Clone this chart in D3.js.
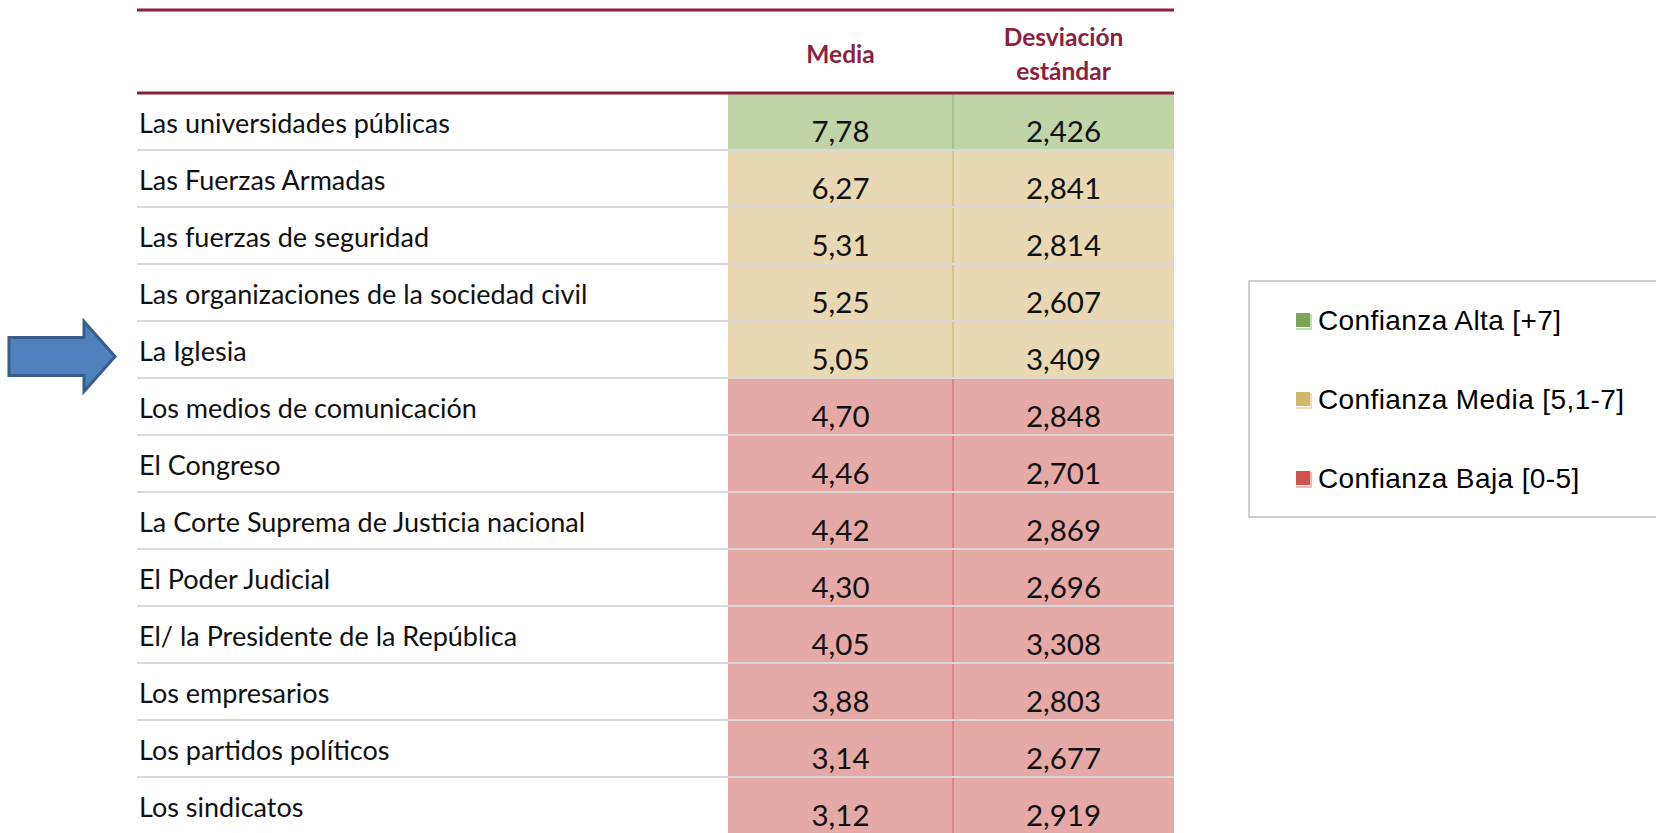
<!DOCTYPE html>
<html>
<head>
<meta charset="utf-8">
<script src="https://cdn.jsdelivr.net/npm/d3@7"></script>
<style>
  html, body { margin: 0; padding: 0; background: #fff; overflow: hidden; }
  svg { display: block; }
</style>
</head>
<body>
<svg id="chart" width="1656" height="833"></svg>
<script>
// ---- data ----
const institutions = [
  "Las universidades públicas",
  "Las Fuerzas Armadas",
  "Las fuerzas de seguridad",
  "Las organizaciones de la sociedad civil",
  "La Iglesia",
  "Los medios de comunicación",
  "El Congreso",
  "La Corte Suprema de Justicia nacional",
  "El Poder Judicial",
  "El/ la Presidente de la República",
  "Los empresarios",
  "Los partidos políticos",
  "Los sindicatos"
];
const media = [7.78, 6.27, 5.31, 5.25, 5.05, 4.70, 4.46, 4.42, 4.30, 4.05, 3.88, 3.14, 3.12];
const desviacion = [2.426, 2.841, 2.814, 2.607, 3.409, 2.848, 2.701, 2.869, 2.696, 3.308, 2.803, 2.677, 2.919];
const columnHeaders = [["Media"], ["Desviación", "estándar"]];
const legendLabels = ["Confianza Alta [+7]", "Confianza Media [5,1-7]", "Confianza Baja [0-5]"];
const highlighted = "La Iglesia";

// ---- styles ----
const cellFill = ["#E5A9A6", "#E8D9B4", "#C1D4A8"];      // baja, media, alta
const dividerColor = ["#D27C79", "#CDBB84", "#9FBE83"];
const legendFill = ["#7BA65A", "#D2B86B", "#D0524E"];
const legendShadow = ["#B5CFA0", "#E6D6A6", "#E8A6A4"];
const maroon = "#8C1F3B";

const svg = d3.select("#chart");

const tableLeft = 137, tableRight = 1174;
const cellLeft = 728, cellMid = 953;
const headerTop = 10, headerBottom = 93, rowH = 57;

const y = d3.scaleBand()
  .domain(institutions)
  .range([headerBottom, headerBottom + rowH * institutions.length])
  .padding(0);

const confidence = d3.scaleThreshold().domain([5, 7]).range([0, 1, 2]);
const fmt = (v, d) => d3.format("." + d + "f")(v).replace(".", ",");

const rows = institutions.map((name, i) => ({ name, media: media[i], sd: desviacion[i], cls: confidence(media[i]) }));

// cells
const g = svg.append("g");
const rowG = g.selectAll("g.row").data(rows).join("g").attr("class", "row")
  .attr("transform", d => `translate(0,${y(d.name)})`);

rowG.append("rect")
  .attr("x", cellLeft).attr("y", 0)
  .attr("width", tableRight - cellLeft).attr("height", y.bandwidth())
  .attr("fill", d => cellFill[d.cls]);

rowG.append("line")
  .attr("x1", cellMid).attr("x2", cellMid)
  .attr("y1", 0).attr("y2", y.bandwidth())
  .attr("stroke", d => dividerColor[d.cls]).attr("stroke-width", 1.5);

// separators
g.selectAll("line.sep").data(rows.slice(1)).join("line").attr("class", "sep")
  .attr("x1", tableLeft).attr("x2", tableRight)
  .attr("y1", d => y(d.name)).attr("y2", d => y(d.name))
  .attr("stroke", "#D9D9D9").attr("stroke-width", 2);

// labels
rowG.append("text")
  .attr("x", tableLeft + 2).attr("y", 40)
  .attr("font-family", "Lato, 'Open Sans', sans-serif")
  .attr("font-size", 27)
  .attr("fill", "#111")
  .text(d => d.name);

rowG.append("text")
  .attr("x", (cellLeft + cellMid) / 2).attr("y", 49)
  .attr("text-anchor", "middle")
  .attr("font-family", "Lato, 'Open Sans', sans-serif")
  .attr("font-size", 29.5)
  .attr("fill", "#111")
  .text(d => fmt(d.media, 2));

rowG.append("text")
  .attr("x", (cellMid + tableRight) / 2).attr("y", 49)
  .attr("text-anchor", "middle")
  .attr("font-family", "Lato, 'Open Sans', sans-serif")
  .attr("font-size", 29.5)
  .attr("fill", "#111")
  .text(d => fmt(d.sd, 3));

// header lines
[headerTop, headerBottom].forEach(yy => {
  svg.append("line").attr("x1", tableLeft).attr("x2", tableRight)
    .attr("y1", yy).attr("y2", yy)
    .attr("stroke", maroon).attr("stroke-width", 3);
});

// headers
const headerX = [(cellLeft + cellMid) / 2, (cellMid + tableRight) / 2];
columnHeaders.forEach((lines, i) => {
  const t = svg.append("text")
    .attr("x", headerX[i])
    .attr("text-anchor", "middle")
    .attr("font-family", "Lato, 'Open Sans', sans-serif")
    .attr("font-weight", "bold")
    .attr("font-size", 24.5)
    .attr("fill", maroon);
  if (lines.length === 1) {
    t.attr("y", 63).text(lines[0]);
  } else {
    t.append("tspan").attr("x", headerX[i]).attr("y", 46).text(lines[0]);
    t.append("tspan").attr("x", headerX[i]).attr("y", 80).text(lines[1]);
  }
});

// arrow pointing at highlighted row
const ay = y(highlighted) + y.bandwidth() / 2 + 7;
const arrowPts = [
  [9, ay - 19], [84, ay - 19], [84, ay - 35], [115, ay],
  [84, ay + 35], [84, ay + 19], [9, ay + 19]
];
svg.append("path")
  .attr("d", d3.line()(arrowPts) + "Z")
  .attr("fill", "#4F81BD")
  .attr("stroke", "#385D8A")
  .attr("stroke-width", 3)
  .attr("stroke-linejoin", "miter");

// legend
svg.append("rect")
  .attr("x", 1249).attr("y", 281)
  .attr("width", 1656 - 1249 + 5).attr("height", 236)
  .attr("fill", "#fff").attr("stroke", "#BFBFBF").attr("stroke-width", 1.5);

const legendY = d3.scalePoint().domain(legendLabels).range([320, 478]);
const lg = svg.selectAll("g.leg").data(legendLabels).join("g").attr("class", "leg")
  .attr("transform", d => `translate(1296,${legendY(d)})`);
lg.append("path")
  .attr("d", "M15,-6 V9 H0")
  .attr("fill", "none")
  .attr("stroke", (d, i) => legendShadow[i]).attr("stroke-width", 1.5);
lg.append("rect")
  .attr("x", 0).attr("y", -7).attr("width", 14).attr("height", 14)
  .attr("fill", (d, i) => legendFill[i]);
lg.append("text")
  .attr("x", 22).attr("y", 10)
  .attr("font-family", "'Liberation Sans', Arial, sans-serif")
  .attr("font-size", 28)
  .attr("letter-spacing", 0.4)
  .attr("fill", "#000")
  .text(d => d);
</script>
</body>
</html>
